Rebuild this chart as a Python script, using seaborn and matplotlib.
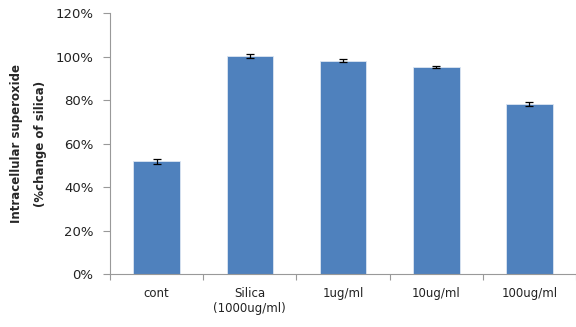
import matplotlib
matplotlib.use("Agg")
import matplotlib.pyplot as plt
import matplotlib.ticker as mticker
import seaborn as sns
import pandas as pd
import numpy as np

# ----------------------------
# DATA
# ----------------------------
groups = ["cont", "Silica\n(1000ug/ml)", "1ug/ml", "10ug/ml", "100ug/ml"]
values = [51.8, 100.2, 98.1, 95.2, 78.1]
errors = [1.2, 0.8, 0.6, 0.5, 0.8]
y_ticks = [0, 20, 40, 60, 80, 100, 120]

df = pd.DataFrame({"group": groups, "value": values, "err": errors})

# ----------------------------
# PLOT
# ----------------------------
sns.set_style("white")
plt.rcParams["font.family"] = ["DejaVu Sans"]

fig = plt.figure(figsize=(5.76, 3.27), dpi=100)
ax = fig.add_axes([0.191, 0.162, 0.809, 0.798])

sns.barplot(data=df, x="group", y="value", color="#4F81BD", width=0.5,
            edgecolor="#DCE6F2", linewidth=0.6, saturation=1, ax=ax)
ax.errorbar(np.arange(len(groups)), df["value"], yerr=df["err"], fmt="none",
            ecolor="black", elinewidth=0.9, capsize=3, capthick=0.9)

ax.set_ylim(0, 120)
ax.set_xlim(-0.5, len(groups) - 0.5)
ax.set_yticks(y_ticks)
ax.yaxis.set_major_formatter(mticker.FuncFormatter(lambda v, p: f"{v:.0f}%"))

# excel-style category ticks between bars
ax.set_xticks(np.arange(-0.5, len(groups)), minor=True)
ax.tick_params(axis="x", which="major", bottom=True, length=0, labelsize=8.5, pad=9,
               labelcolor="#222222")
ax.tick_params(axis="x", which="minor", bottom=True, length=4, width=0.8,
               color="#999999", direction="out")
ax.tick_params(axis="y", left=True, length=5, width=0.8, color="#999999", direction="out",
               labelsize=9.5, pad=7, labelcolor="#222222")

for s in ["top", "right"]:
    ax.spines[s].set_visible(False)
for s in ["left", "bottom"]:
    ax.spines[s].set_color("#999999")
    ax.spines[s].set_linewidth(0.8)

ax.set_xlabel("")
ax.set_ylabel("Intracellular superoxide\n(%change of silica)", fontsize=8.5,
              fontweight="bold", linespacing=2.1)
ax.yaxis.set_label_coords(-0.135, 0.5)

fig.savefig("out.png", dpi=100)
